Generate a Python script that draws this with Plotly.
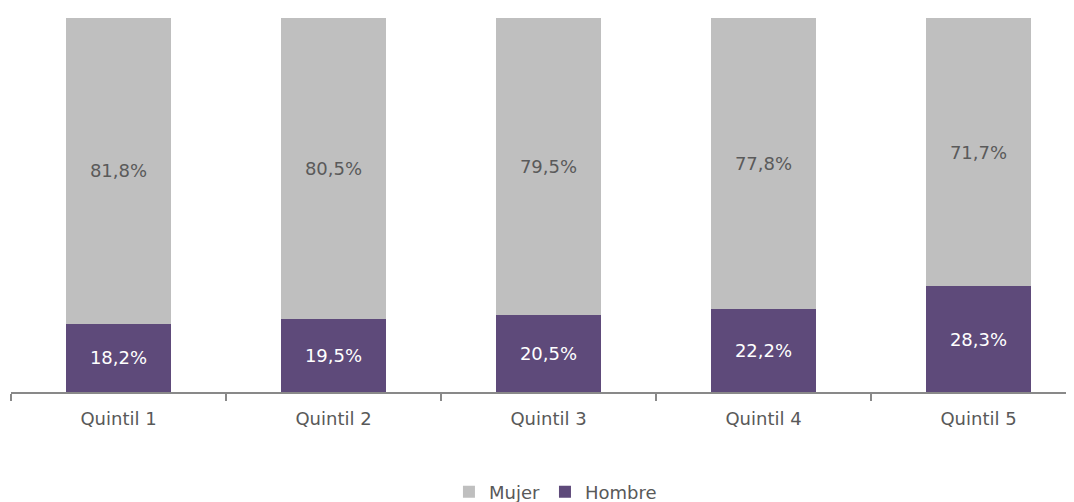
import plotly.graph_objects as go

categories = ["Quintil 1", "Quintil 2", "Quintil 3", "Quintil 4", "Quintil 5"]
hombre = [18.2, 19.5, 20.5, 22.2, 28.3]
mujer = [81.8, 80.5, 79.5, 77.8, 71.7]

def fmt(v):
    return f"{v:.1f}%".replace(".", ",")

FONT = "'DejaVu Sans', sans-serif"
FS = 18

fig = go.Figure()
fig.add_trace(go.Bar(
    name="Hombre", x=categories, y=hombre,
    marker=dict(color="#5E4A7A", line=dict(width=0)),
    text=[fmt(v) for v in hombre], textposition="inside",
    insidetextanchor="middle", textangle=0,
    textfont=dict(color="#FFFFFF", size=FS, family=FONT),
))
fig.add_trace(go.Bar(
    name="Mujer", x=categories, y=mujer,
    marker=dict(color="#BFBFBF", line=dict(width=0)),
    text=[fmt(v) for v in mujer], textposition="inside",
    insidetextanchor="middle", textangle=0,
    textfont=dict(color="#5A5A5A", size=FS, family=FONT),
))

fig.update_layout(
    barmode="stack",
    bargap=0.51,
    width=1074, height=502,
    margin=dict(l=3, r=8, t=10, b=118),
    plot_bgcolor="white", paper_bgcolor="white",
    font=dict(family=FONT, size=FS, color="#595959"),
    showlegend=True,
    legend=dict(
        orientation="h", traceorder="reversed",
        x=0.412, xanchor="left",
        yref="container", y=0.036, yanchor="middle",
        font=dict(size=FS, color="#595959", family=FONT),
        itemwidth=30,
    ),
    xaxis=dict(
        type="category",
        range=[-0.5, -0.5 + 1063 / 215],
        tickson="boundaries",
        ticks="outside", ticklen=7, tickcolor="#898989", tickwidth=1.5,
        showline=True, linecolor="#898989", linewidth=1.5,
        showgrid=False,
        ticklabelstandoff=10,
        tickfont=dict(size=FS, color="#595959", family=FONT),
    ),
    yaxis=dict(
        range=[0, 100], visible=False, showgrid=False,
    ),
)

fig.write_html("out.html")
